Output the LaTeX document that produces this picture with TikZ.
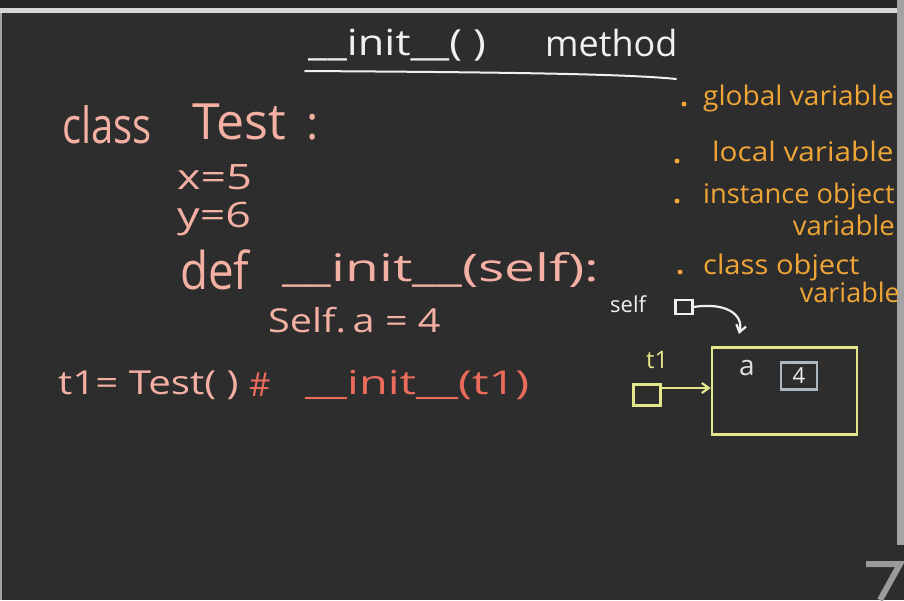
\documentclass[tikz,border=0pt]{standalone}
\usepackage{fontspec}
\usepackage{graphicx}
\setmainfont{Open Sans}
\usetikzlibrary{arrows.meta}
\definecolor{board}{HTML}{2D2D2D}
\definecolor{topdark}{HTML}{262626}
\definecolor{edgegray}{HTML}{D6D6D6}
\definecolor{chalkpink}{HTML}{F5B0A4}
\definecolor{chalkred}{HTML}{EC6C5C}
\definecolor{chalkorange}{HTML}{F0A537}
\definecolor{chalkyellow}{HTML}{E4E68C}
\definecolor{chalkwhite}{HTML}{F0F0F0}
\definecolor{boxgray}{HTML}{AEB6BE}
\definecolor{logogray}{HTML}{9A9A9A}
\newcommand{\hsx}[2]{\scalebox{#1}[1]{#2}}
\tikzset{
  txt/.style={inner sep=0pt, anchor=west},
  pinktxt/.style={txt, text=chalkpink},
  redtxt/.style={txt, text=chalkred},
  orangetxt/.style={txt, text=chalkorange, font=\fontsize{27}{30}\selectfont},
  whitetxt/.style={txt, text=chalkwhite},
  yellowtxt/.style={txt, text=chalkyellow},
  dotbullet/.style={circle, fill=chalkorange, inner sep=0pt, minimum size=5pt},
  memsq/.style={draw, line width=2.2pt, inner sep=0pt},
  chalkarrow/.style={line width=2.2pt, -{Straight Barb[length=7pt, width=10pt]}}
}
\begin{document}
\begin{tikzpicture}[x=1pt,y=-1pt]
\useasboundingbox (0,0) rectangle (904,600);
% board
\fill[board] (0,0) rectangle (904,600);
\fill[topdark] (0,0) rectangle (904,8);
\fill[edgegray] (0,8) rectangle (897,13);
\fill[edgegray!70!board] (0,13) rectangle (2,600);
\fill[edgegray!70!board] (897,0) rectangle (904,545);
% watermark
\draw[logogray, line width=6pt] (866,564) -- (900,564) -- (880,600);
% title
\node[whitetxt, font=\fontsize{36}{40}\selectfont] (t1a) at (308,45) {\hsx{1.2}{\_\_init\_\_( )}};
\node[whitetxt, font=\fontsize{36}{40}\selectfont] (t1b) at (545,43) {method};
\draw[chalkwhite, line width=2pt, line cap=round] (305,71) .. controls (450,72) and (620,73) .. (676,79);
% code
\node[pinktxt, font=\fontsize{50}{56}\selectfont] (cls) at (62,125) {\hsx{0.8}{class}};
\node[pinktxt, font=\fontsize{50}{56}\selectfont] (tst) at (192,122) {Test};
\node[pinktxt, font=\fontsize{46}{56}\selectfont] (col) at (306,127) {:};
\node[pinktxt, font=\fontsize{35}{40}\selectfont] (xv) at (177,177) {\hsx{1.28}{x=5}};
\node[pinktxt, font=\fontsize{35}{40}\selectfont] (yv) at (177,219) {\hsx{1.28}{y=6}};
\node[pinktxt, font=\fontsize{52}{60}\selectfont] (def) at (180,270) {\hsx{0.88}{def}};
\node[pinktxt, font=\fontsize{38}{44}\selectfont] (ini) at (282,270) {\hsx{1.45}{\_\_init\_\_(self):}};
\node[pinktxt, font=\fontsize{33}{40}\selectfont] (sa) at (268,320) {\hsx{1.2}{Self.\,a = 4}};
\node[pinktxt, font=\fontsize{33}{40}\selectfont] (t1) at (58,385) {\hsx{1.22}{t1= Test( )}};
\node[redtxt, font=\fontsize{33}{40}\selectfont] (hash) at (249,385) {\#};
\node[redtxt, font=\fontsize{33}{40}\selectfont] (ini2) at (305,385) {\hsx{1.42}{\_\_init\_\_(t1)}};
% list
\node[dotbullet] (b1) at (684,104) {};
\node[orangetxt] (l1) at (703,98) {\hsx{1.04}{global variable}};
\node[dotbullet] (b2) at (677,161) {};
\node[orangetxt] (l2) at (712,151) {\hsx{1.1}{local variable}};
\node[dotbullet] (b3) at (677,201) {};
\node[orangetxt] (l3) at (703,196) {\hsx{1.01}{instance object}};
\node[orangetxt, anchor=east] (l3b) at (895,225) {\hsx{1.02}{variable}};
\node[dotbullet] (b4) at (680,272) {};
\node[orangetxt] (l4) at (703,267) {\hsx{1.08}{class object}};
\node[orangetxt, anchor=east] (l4b) at (900,292) {variable};
% memory diagram
\node[whitetxt, font=\fontsize{22}{26}\selectfont] (selft) at (610,304) {self};
\node[memsq, chalkwhite, minimum width=17pt, minimum height=14pt] (selfsq) at (684,307) {};
\coordinate (selftip) at (739,334);
\draw[chalkwhite, chalkarrow] (selfsq.east) .. controls (725,302) and (744,314) .. (selftip);
\node[yellowtxt, font=\fontsize{24}{28}\selectfont] (t1t) at (646,360) {t1};
\node[memsq, chalkyellow, minimum width=27pt, minimum height=21pt] (t1sq) at (647,395) {};
\node[memsq, chalkyellow, line width=2.6pt, minimum width=145pt, minimum height=87pt] (obj) at (784.5,391) {};
\draw[chalkyellow, chalkarrow] (t1sq.east |- 0,388) -- (obj.west |- 0,388);
\node[whitetxt, text=chalkwhite!85!gray, font=\fontsize{28}{32}\selectfont] (av) at (739,368) {a};
\node[memsq, boxgray, minimum width=36pt, minimum height=27pt, text=chalkwhite, font=\fontsize{22}{26}\selectfont] (four) at (799,376) {4};
\end{tikzpicture}
\end{document}
